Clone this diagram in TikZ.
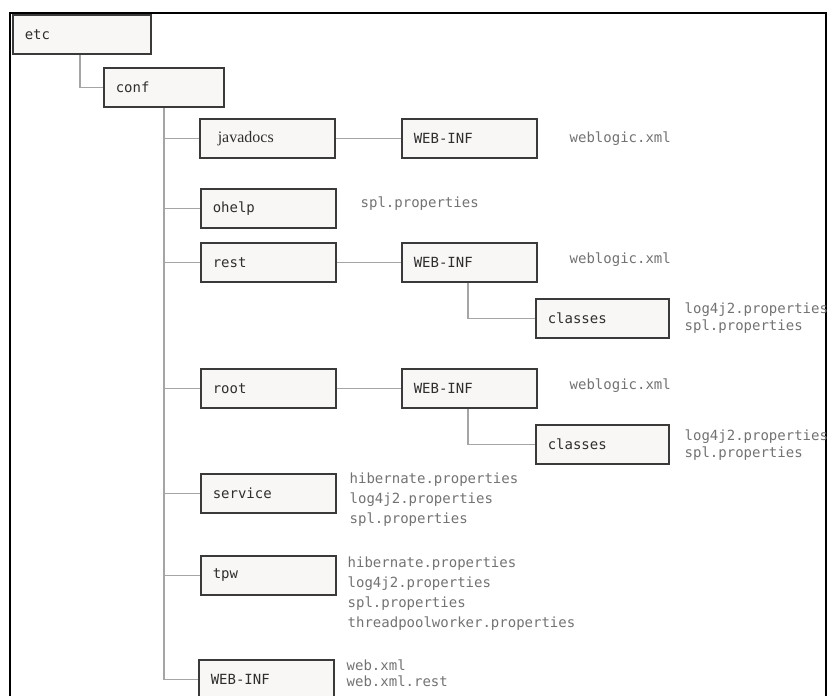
\documentclass[tikz,border=0pt]{standalone}
\usepackage{fontspec}
\setmainfont{Liberation Serif}
\setmonofont{DejaVu Sans Mono}
\usetikzlibrary{positioning}
\definecolor{boxdraw}{HTML}{3A3A3A}
\definecolor{boxfill}{HTML}{F8F7F5}
\definecolor{boxtext}{HTML}{2E2E2E}
\definecolor{wiregray}{HTML}{A5A5A5}
\definecolor{filetext}{HTML}{727272}

\begin{document}
\begin{tikzpicture}[x=1pt, y=-1pt,
	dirbox/.style={draw=boxdraw, fill=boxfill, line width=1.5pt, anchor=north west,
		minimum height=39pt, inner xsep=12pt, inner ysep=0pt, text width=#1,
		align=left, text=boxtext, font=\ttfamily\fontsize{14}{17}\selectfont},
	dirbox/.default=111pt,
	wire/.style={draw=wiregray, line width=1.3pt},
	files/.style={inner sep=0pt, align=left, text=filetext,
		font=\ttfamily\fontsize{14}{20}\selectfont}]
	\useasboundingbox (0,0) rectangle (828,696);
	\draw[line width=2.5pt] (10,700) -- (10,13) -- (826,13) -- (826,700);

	% folders
	\node[dirbox=114pt] (etc) at (12,14) {etc};
	\node[dirbox=96pt] (conf) at (103,67) {conf};
	\node[dirbox, font=\rmfamily\fontsize{16}{18}\selectfont] (javadocs) at (199,118) {\hspace*{6pt}javadocs};
	\node[dirbox] (javaweb) at (401,118) {WEB-INF};
	\node[dirbox] (ohelp) at (200,188) {ohelp};
	\node[dirbox] (rest) at (200,242) {rest};
	\node[dirbox] (restweb) at (401,242) {WEB-INF};
	\node[dirbox=109pt] (restclasses) at (535,298) {classes};
	\node[dirbox] (root) at (200,368) {root};
	\node[dirbox] (rootweb) at (401,368) {WEB-INF};
	\node[dirbox=109pt] (rootclasses) at (535,424) {classes};
	\node[dirbox] (service) at (200,473) {service};
	\node[dirbox] (tpw) at (200,555) {tpw};
	\node[dirbox] (confweb) at (198,659) {WEB-INF};

	% tree lines
	\draw[wire] ([xshift=68pt]etc.south west) |- (conf.west);
	\coordinate (trunk) at ([xshift=61pt]conf.south west);
	\draw[wire] (trunk) |- (confweb.west);
	\foreach \dir in {javadocs,ohelp,rest,root,service,tpw}
		\draw[wire] (trunk |- \dir.west) -- (\dir.west);
	\draw[wire] (javadocs) -- (javaweb);
	\draw[wire] (rest) -- (restweb);
	\draw[wire] (root) -- (rootweb);
	\draw[wire] ([xshift=67pt]restweb.south west) |- (restclasses.west);
	\draw[wire] ([xshift=67pt]rootweb.south west) |- (rootclasses.west);

	% files
	\node[files, anchor=west] (javafiles) at ([xshift=32pt]javaweb.east) {weblogic.xml};
	\node[files, anchor=west] (ohelpfiles) at ([xshift=24pt,yshift=5pt]ohelp.east) {spl.properties};
	\node[files, anchor=west] (restfiles) at ([xshift=32pt,yshift=3pt]restweb.east) {weblogic.xml};
	\node[files, anchor=north west, font=\ttfamily\fontsize{14}{17}\selectfont] (restclassfiles)
		at ([xshift=15pt,yshift=-5pt]restclasses.north east) {log4j2.properties\\spl.properties};
	\node[files, anchor=west] (rootfiles) at ([xshift=32pt,yshift=2.5pt]rootweb.east) {weblogic.xml};
	\node[files, anchor=north west, font=\ttfamily\fontsize{14}{17}\selectfont] (rootclassfiles)
		at ([xshift=15pt,yshift=-6pt]rootclasses.north east) {log4j2.properties\\spl.properties};
	\node[files, anchor=north west] (servicefiles) at ([xshift=13pt]service.north east)
		{hibernate.properties\\log4j2.properties\\spl.properties};
	\node[files, anchor=north west] (tpwfiles) at ([xshift=11pt,yshift=-1.5pt]tpw.north east)
		{hibernate.properties\\log4j2.properties\\spl.properties\\threadpoolworker.properties};
	\node[files, anchor=north west, font=\ttfamily\fontsize{14}{16}\selectfont] (webfiles)
		at ([xshift=12pt,yshift=-1pt]confweb.north east) {web.xml\\web.xml.rest};
\end{tikzpicture}
\end{document}
